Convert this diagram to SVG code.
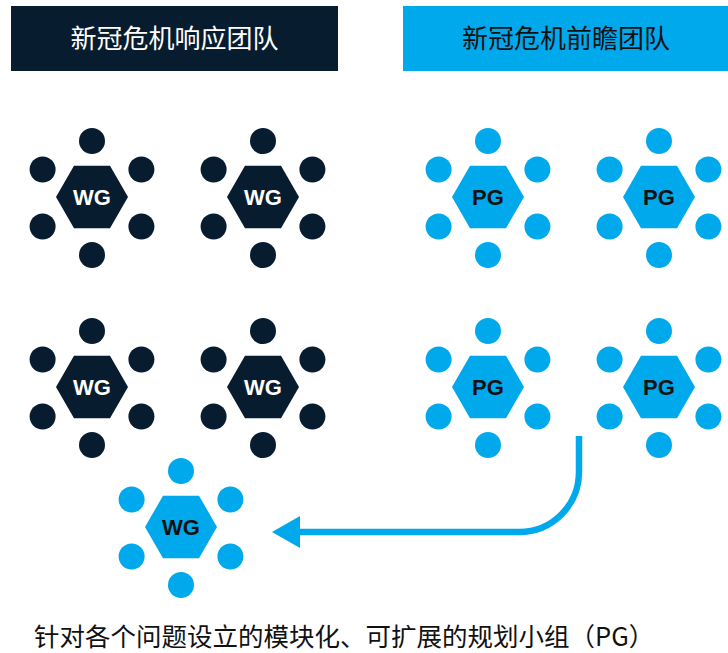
<svg xmlns="http://www.w3.org/2000/svg" xmlns:xlink="http://www.w3.org/1999/xlink" width="728" height="653" viewBox="0 0 728 653">
<style>
.cjk{font-family:"Noto Sans CJK SC","Noto Sans",sans-serif;}
.lbl{font-family:"Liberation Sans",Arial,sans-serif;font-weight:bold;font-size:22px;text-anchor:middle;}
.dark{fill:#071c2e;}
.blue{fill:#00a8ec;}
.wt{fill:#ffffff;}
.bk{fill:#111111;}
</style>
<defs>
<g id="sats">
<circle cx="0" cy="-57" r="13"/>
<circle cx="49.4" cy="-28.5" r="13"/>
<circle cx="49.4" cy="28.5" r="13"/>
<circle cx="0" cy="57" r="13"/>
<circle cx="-49.4" cy="28.5" r="13"/>
<circle cx="-49.4" cy="-28.5" r="13"/>
<polygon points="-36,-1 -18,-32.2 18,-32.2 36,-1 18,30.2 -18,30.2"/>
</g>
<marker id="ah" markerWidth="28" markerHeight="32" refX="0" refY="16" orient="auto" markerUnits="userSpaceOnUse">
<polygon points="0,0 28,16 0,32" fill="#00a8ec"/>
</marker>
</defs>
<g id="header-response">
<rect x="11" y="6" width="327" height="65" class="dark"/>
<text x="174.5" y="48" class="cjk wt" font-size="26" text-anchor="middle">新冠危机响应团队</text>
</g>
<g id="header-outlook">
<rect x="403" y="6" width="325" height="65" class="blue"/>
<text x="566" y="48" class="cjk bk" font-size="26" text-anchor="middle">新冠危机前瞻团队</text>
</g>
<g id="wg1" transform="translate(92,198)"><use xlink:href="#sats" class="dark"/><text x="0" y="7" class="lbl wt">WG</text></g>
<g id="wg2" transform="translate(263,198)"><use xlink:href="#sats" class="dark"/><text x="0" y="7" class="lbl wt">WG</text></g>
<g id="wg3" transform="translate(92,388)"><use xlink:href="#sats" class="dark"/><text x="0" y="7" class="lbl wt">WG</text></g>
<g id="wg4" transform="translate(263,388)"><use xlink:href="#sats" class="dark"/><text x="0" y="7" class="lbl wt">WG</text></g>
<g id="pg1" transform="translate(488,198)"><use xlink:href="#sats" class="blue"/><text x="0" y="7" class="lbl bk">PG</text></g>
<g id="pg2" transform="translate(659,198)"><use xlink:href="#sats" class="blue"/><text x="0" y="7" class="lbl bk">PG</text></g>
<g id="pg3" transform="translate(488,388)"><use xlink:href="#sats" class="blue"/><text x="0" y="7" class="lbl bk">PG</text></g>
<g id="pg4" transform="translate(659,388)"><use xlink:href="#sats" class="blue"/><text x="0" y="7" class="lbl bk">PG</text></g>
<g id="wg5" transform="translate(181,528)"><use xlink:href="#sats" class="blue"/><text x="0" y="7" class="lbl bk">WG</text></g>
<g id="connectors">
<path d="M579,436 V472 A60,60 0 0 1 519,532 H300" fill="none" stroke="#00a8ec" stroke-width="6.5" marker-end="url(#ah)"/>
</g>
<g id="caption">
<text x="34" y="646" class="cjk" fill="#111111" font-size="25.5">针对各个问题设立的模块化、可扩展的规划小组（PG）</text>
</g>
</svg>
